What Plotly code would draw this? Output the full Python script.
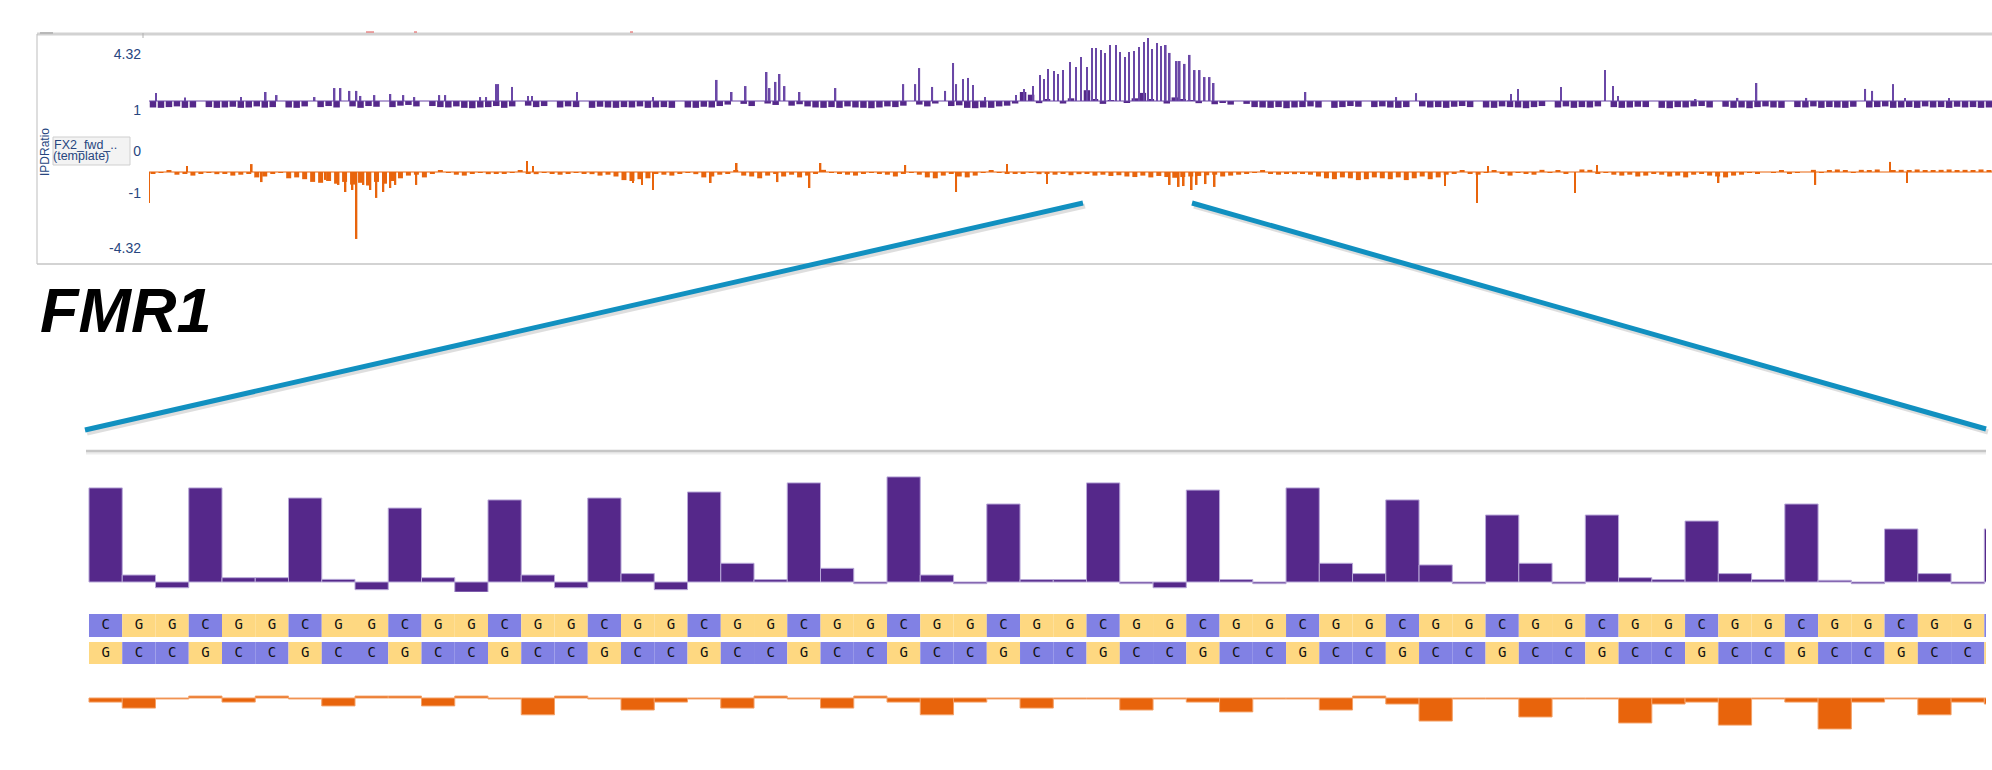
import plotly.graph_objects as go


W = 1992
H = 770


# ---------- overview track: FX2_fwd template, IPD ratio ----------
# background bins of 8 template positions, ratio per bin
PURPLE_BG = [
    0.64, 0.62, 0.66, 0.70, 0.62, 0.64, 1.00, 0.66, 0.62, 0.64, 0.68, 0.62, 0.64, 0.70, 0.63, 0.66, 1.00, 0.64, 0.62,
    0.70, 1.00, 0.66, 0.72, 0.64, 1.00, 0.70, 0.62, 0.72, 0.68, 1.00, 0.66, 0.74,
    0.78, 0.70, 1.00, 0.72, 0.66, 0.64, 0.70, 0.62, 0.60, 0.64, 0.66, 0.72,
    0.62, 0.70, 1.00, 0.74, 0.66, 0.72, 1.00, 0.64, 0.70, 0.66, 1.00, 0.62, 0.68,
    0.64, 0.62, 0.66, 0.64, 0.70, 0.62, 0.64, 0.66, 0.62, 1.00, 0.64, 0.62, 0.68, 0.64, 0.72,
    0.80, 1.00, 0.84, 0.72, 1.00, 0.86, 0.78, 1.00, 0.74, 0.82,
    0.70, 0.64, 0.62, 0.66, 0.62, 0.70, 0.64, 0.62, 0.60, 0.64, 0.70, 0.66,
    0.74, 1.00, 0.80, 0.70, 0.86, 1.00, 0.72, 0.76, 0.62, 0.60, 0.64, 0.62, 0.70,
    0.74, 0.86,
    1.50, 1.35, 0.88, 1.10, 1.00, 0.86, 1.15, 1.00, 1.60, 1.10, 0.84, 1.05, 1.00, 0.90, 1.15, 1.45, 1.10, 1.00, 0.86,
    1.20, 1.10, 1.05, 0.88, 1.00, 0.82,
    0.90, 0.80, 1.00, 0.84, 0.66, 0.64, 0.62, 0.66, 0.60, 0.64,
    0.66, 0.70, 0.64, 1.00, 0.62, 0.66, 0.72, 0.68, 1.00, 0.66, 0.70, 0.64, 0.62, 0.66, 1.00, 0.70, 0.64, 0.66, 0.62, 0.68,
    0.72, 0.66, 1.00, 0.64, 0.62, 0.70, 0.66, 0.64, 0.60, 0.66, 0.72, 1.00, 0.64, 0.70, 0.62, 0.66, 0.64, 0.70, 1.00, 0.66,
    0.62, 0.64, 0.68, 0.66, 1.00, 0.62, 0.60, 0.66, 0.64, 0.70, 0.72, 0.64, 1.00, 0.68, 0.62, 0.64, 0.60, 0.66, 0.70, 0.64,
    0.62, 1.00, 0.66, 0.64, 0.70, 0.62, 0.66, 0.64, 0.62, 0.68, 1.00, 0.64, 0.66, 0.70, 0.62, 0.64, 0.66, 0.62, 0.70, 0.64,
    0.66, 0.62, 0.68, 0.64, 0.66, 0.62, 0.64,
]

ORANGE_BG = [
    1.10, 1.05, 0.92, 1.15, 1.08, 1.20, 1.10, 1.05, 1.12, 1.08, 1.20, 1.15, 1.10, 1.30, 1.25, 1.10, 1.05, 1.35, 1.30,
    1.40, 1.55, 1.60, 1.50, 1.65, 1.55, 1.70, 1.60, 1.75, 1.55, 1.65, 1.50, 1.35,
    1.20, 1.15, 1.30, 1.10, 0.92, 1.05, 1.15, 1.20, 1.10, 1.05, 1.12, 1.08,
    1.10, 1.05, 0.90, 1.08, 1.12, 1.05, 1.10, 1.15, 1.08, 1.05, 1.10, 1.12, 1.20,
    1.15, 1.25, 1.45, 1.50, 1.40, 1.35, 1.10, 1.15, 1.20, 1.10, 1.05, 1.12, 1.30, 1.25, 1.15,
    1.10, 0.90, 1.20, 1.25, 1.35, 1.20, 1.10, 1.25, 1.15, 1.30,
    1.20, 1.10, 0.88, 1.05, 1.10, 1.15, 1.20, 1.10, 1.05, 1.08, 1.15, 1.25,
    1.10, 1.05, 1.15, 1.30, 1.35, 1.20, 1.10, 1.25, 1.30, 1.20, 1.05, 0.92, 1.05,
    1.10, 1.08,
    1.10, 1.05, 1.12, 1.08, 1.15, 1.10, 1.18, 1.12, 1.10, 1.20, 1.15, 1.22, 1.18, 1.25, 1.28, 1.20, 1.30, 1.22, 1.28,
    1.32, 1.28, 1.25, 1.22, 1.18, 1.15,
    1.25, 1.20, 1.15, 1.10, 1.05, 0.92, 1.10, 1.15, 1.08, 1.12,
    1.10, 1.15, 1.25, 1.35, 1.40, 1.30, 1.35, 1.45, 1.40, 1.30, 1.35, 1.40, 1.30, 1.45, 1.35, 1.25, 1.40, 1.30, 1.15, 1.10,
    0.92, 1.10, 1.15, 1.05, 0.90, 1.10, 1.20, 1.05, 1.10, 1.15, 0.88, 1.05, 0.90, 1.10, 1.00, 0.86, 0.88, 1.10, 1.05, 1.15,
    1.20, 1.15, 1.25, 1.20, 1.10, 1.15, 1.25, 1.20, 1.30, 1.15, 1.10, 1.20, 1.25, 1.30, 1.20, 1.15, 1.05, 1.10, 1.00, 1.05,
    0.92, 1.10, 1.05, 1.00, 0.88, 1.05, 0.92, 0.86, 0.90, 1.05, 0.88, 0.92, 0.86, 1.00, 0.90, 0.88, 0.92, 0.86, 0.90, 0.92,
    0.88, 0.86, 0.92, 0.88, 0.90, 0.86, 0.92,
]

# single positions that stand out (template position, ratio)
PURPLE_SPIKE_POS = [
    7, 36, 92, 117, 128, 166, 186, 192, 201, 208, 212, 226, 242, 255, 266, 291, 297, 332, 338, 348,
    350, 364, 380, 384, 429, 505, 569, 584, 598, 619, 622, 628, 632, 637, 652, 688, 756, 768, 772, 785,
    798, 806, 809, 816, 821, 826, 838,
    869, 877, 886, 893, 897, 901, 907, 911, 916, 923, 929, 934, 940, 945, 949, 954, 958, 963, 969, 973,
    978, 982, 987, 992, 997, 1001, 1005, 1010, 1014, 1019, 1023, 1030, 1033, 1038, 1043, 1048, 1053,
    1058, 1063, 1067,
    1159, 1250, 1270, 1365, 1372, 1415, 1459, 1467, 1472, 1550, 1592, 1611, 1661, 1720, 1727, 1748,
    1760, 1804,
]
PURPLE_SPIKE_VAL = [
    1.44, 1.20, 1.22, 1.50, 1.33, 1.22, 1.72, 1.72, 1.56, 1.56, 1.28, 1.33, 1.39, 1.33, 1.22, 1.33, 1.33, 1.22, 1.22, 1.94,
    1.94, 1.78, 1.28, 1.28, 1.50, 1.22, 2.17, 1.50, 1.83, 2.61, 1.72, 2.06, 2.50, 1.83, 1.50, 1.72, 1.94, 1.94, 2.83, 1.78,
    1.56, 3.11, 1.94, 2.22, 2.28, 1.89, 1.22,
    1.33, 1.67, 1.83, 2.44, 2.22, 2.78, 2.67, 2.50, 2.72, 3.17, 2.89, 3.44, 2.89, 3.94, 3.94, 3.83, 3.67, 4.11, 4.11, 3.72,
    3.44, 3.72, 3.78, 4.00, 4.28, 4.50, 3.89, 4.22, 4.06, 4.11, 3.67, 3.22, 3.22, 3.06, 3.56, 2.72, 2.72,
    2.33, 2.33, 2.00,
    1.50, 1.22, 1.44, 1.39, 1.67, 1.78, 2.72, 1.83, 1.28, 1.11, 1.17, 2.00, 1.17, 1.67, 1.56, 1.94,
    1.17, 1.17,
]

ORANGE_SPIKE_POS = [
    0, 38, 103, 113, 177, 190, 197, 204, 208, 215, 222, 228, 235, 242, 247, 268, 379, 385, 485, 494,
    505, 563, 589, 630, 662, 673, 758, 809, 860, 900, 1023, 1032, 1037, 1045, 1050, 1059, 1068, 1299,
    1331, 1342, 1429, 1451, 1573, 1670, 1745, 1762,
]
ORANGE_SPIKE_VAL = [
    2.72, 0.67, 0.56, 1.56, 1.44, 1.72, 2.11, 2.00, 4.72, 1.72, 2.00, 2.44, 2.11, 1.89, 1.72, 1.72, 0.39, 0.67, 1.61, 1.72,
    2.00, 1.61, 0.50, 1.56, 1.89, 0.50, 0.61, 2.11, 0.56, 1.67, 1.72, 1.83, 1.78, 2.00, 1.72, 1.67, 1.83, 1.78,
    2.72, 0.67, 2.17, 0.61, 1.61, 1.72, 0.44, 1.61,
]

TOP_TICK_TEXT = ["4.32", "1", "0", "-1", "-4.32"]


# ---------- zoom on the CGG repeat ----------
SEQ_TOP = "CGGCGGCGGCGGCGGCGGCGGCGGCGGCGGCGGCGGCGGCGGCGGCGGCGGCGGCGGC"

ZOOM_PURPLE = [
    3.92, 0.29, -0.24, 3.92, 0.18, 0.18, 3.50, 0.11, -0.32, 3.08,
    0.18, -0.42, 3.42, 0.29, -0.24, 3.50, 0.35, -0.32, 3.75, 0.78,
    0.10, 4.13, 0.57, -0.07, 4.38, 0.29, -0.07, 3.25, 0.10, 0.10,
    4.13, -0.07, -0.24, 3.83, 0.10, -0.07, 3.92, 0.78, 0.35, 3.42,
    0.71, -0.07, 2.79, 0.78, -0.07, 2.79, 0.18, 0.10, 2.54, 0.35,
    0.10, 3.25, 0.07, -0.07, 2.21, 0.35, -0.07, 2.21,
]

ZOOM_ORANGE = [
    -0.17, -0.42, -0.04, 0.08, -0.17, 0.08, -0.04, -0.33, 0.08, 0.08,
    -0.33, 0.08, -0.04, -0.70, 0.08, -0.04, -0.50, -0.17, -0.04, -0.42,
    0.08, -0.04, -0.42, 0.08, -0.17, -0.70, -0.17, -0.04, -0.42, -0.04,
    -0.04, -0.50, -0.04, -0.17, -0.58, -0.04, -0.04, -0.50, 0.08, -0.25,
    -0.96, -0.04, -0.04, -0.79, -0.04, -0.04, -1.04, -0.25, -0.17, -1.13,
    -0.04, -0.17, -1.29, -0.17, -0.04, -0.70, -0.17, -0.25,
]


PURPLE = "#55288a"
PURPLE_THIN = "#6a47a6"
ORANGE = "#e8640c"
BASE_C = "#8181e4"
BASE_G = "#fed881"
NAVY = "#27467f"
BLUE = "#1190c0"


def fx(p):
    return p / W


def fy(p):
    return 1 - p / H


# overview geometry (pixels)
TOP_Y0, TOP_Y1 = 35, 264
PURPLE_BASE_PIX, ORANGE_BASE_PIX, PX_PER_UNIT = 101, 172, 18.0
TOP_TICK_PIX = [54, 110, 151, 193, 248]
BIN = 8

# zoom geometry: visible cell range
ZOOM_RANGE = [-0.59, 56.55]


def purple_val(p):
    return 1 + (PURPLE_BASE_PIX - p) / PX_PER_UNIT


def orange_val(p):
    return -1 + (ORANGE_BASE_PIX - p) / PX_PER_UNIT


def build_figure():

    fig = go.Figure()

    n_pos = BIN * len(PURPLE_BG)
    bin_x = [BIN * i + BIN / 2 for i in range(len(PURPLE_BG))]


    # overview: forward strand (purple, up from ratio 1)
    fig.add_trace(
        go.Bar(
            x=bin_x,
            y=[v - 1 for v in PURPLE_BG],
            base=1,
            width=6.5,
            marker=dict(color=PURPLE, line=dict(width=0)),
            xaxis="x",
            yaxis="y"
        )
    )
    fig.add_trace(
        go.Bar(
            x=PURPLE_SPIKE_POS,
            y=[v - 1 for v in PURPLE_SPIKE_VAL],
            base=1,
            width=1.6,
            marker=dict(color=PURPLE_THIN, line=dict(width=0)),
            xaxis="x",
            yaxis="y"
        )
    )
    fig.add_trace(
        go.Scatter(
            x=[0, n_pos],
            y=[1, 1],
            mode="lines",
            line=dict(color=PURPLE_THIN, width=1),
            xaxis="x",
            yaxis="y"
        )
    )


    # overview: reverse strand (orange, drawn downward from -1)
    fig.add_trace(
        go.Bar(
            x=bin_x,
            y=[1 - v for v in ORANGE_BG],
            base=-1,
            width=5,
            marker=dict(color=ORANGE, line=dict(width=0)),
            xaxis="x",
            yaxis="y2"
        )
    )
    fig.add_trace(
        go.Bar(
            x=ORANGE_SPIKE_POS,
            y=[1 - v for v in ORANGE_SPIKE_VAL],
            base=-1,
            width=1.6,
            marker=dict(color=ORANGE, line=dict(width=0)),
            xaxis="x",
            yaxis="y2"
        )
    )
    fig.add_trace(
        go.Scatter(
            x=[0, n_pos],
            y=[-1, -1],
            mode="lines",
            line=dict(color=ORANGE, width=1),
            xaxis="x",
            yaxis="y2"
        )
    )


    # zoom: per-base bars and the two strands
    cells = list(range(len(SEQ_TOP)))
    comp = {"C": "G", "G": "C"}
    seq_bottom = [comp[b] for b in SEQ_TOP]
    colour = {"C": BASE_C, "G": BASE_G}

    fig.add_trace(
        go.Bar(
            x=cells,
            y=ZOOM_PURPLE,
            base=0,
            width=1,
            marker=dict(color=PURPLE, line=dict(color="#b8a8d8", width=1)),
            xaxis="x2",
            yaxis="y3"
        )
    )

    top_base = 27 / 22
    fig.add_trace(
        go.Bar(
            x=cells,
            y=[23 / 22] * len(cells),
            base=top_base,
            width=1,
            marker=dict(color=[colour[b] for b in SEQ_TOP], line=dict(width=0)),
            xaxis="x2",
            yaxis="y4"
        )
    )
    fig.add_trace(
        go.Bar(
            x=cells,
            y=[1.0] * len(cells),
            base=0,
            width=1,
            marker=dict(color=[colour[b] for b in seq_bottom], line=dict(width=0)),
            xaxis="x2",
            yaxis="y4"
        )
    )

    # letters only for cells that are fully in view
    shown = [i for i in cells if i + 0.5 <= ZOOM_RANGE[1]]
    fig.add_trace(
        go.Scatter(
            x=shown + shown,
            y=[top_base + 23 / 44] * len(shown) + [0.5] * len(shown),
            mode="text",
            text=[SEQ_TOP[i] for i in shown] + [seq_bottom[i] for i in shown],
            textfont=dict(family="DejaVu Sans Mono", size=14, color="#111111"),
            xaxis="x2",
            yaxis="y4"
        )
    )

    fig.add_trace(
        go.Bar(
            x=cells,
            y=ZOOM_ORANGE,
            base=0,
            width=1,
            marker=dict(color=ORANGE, line=dict(color="#f3a168", width=1)),
            xaxis="x2",
            yaxis="y5"
        )
    )


    hidden = dict(visible=False, showgrid=False, zeroline=False, fixedrange=True)

    fig.update_layout(
        width=W,
        height=H,
        margin=dict(l=0, r=0, t=0, b=0),
        paper_bgcolor="white",
        plot_bgcolor="white",
        showlegend=False,
        barmode="overlay",
        font=dict(family="Liberation Sans, Arial, sans-serif"),
        xaxis=dict(
            domain=[fx(149), 1],
            range=[0, n_pos - 1],
            anchor="y",
            **hidden
        ),
        yaxis=dict(
            domain=[fy(TOP_Y1), fy(TOP_Y0)],
            range=[purple_val(TOP_Y1), purple_val(TOP_Y0)],
            anchor="x",
            tickmode="array",
            tickvals=[purple_val(p) for p in TOP_TICK_PIX],
            ticktext=TOP_TICK_TEXT,
            ticks="",
            ticklabelstandoff=7,
            tickfont=dict(size=14, color=NAVY),
            showgrid=False,
            zeroline=False,
            showline=False,
            fixedrange=True
        ),
        yaxis2=dict(
            overlaying="y",
            range=[orange_val(TOP_Y1), orange_val(TOP_Y0)],
            anchor="x",
            **hidden
        ),
        xaxis2=dict(
            domain=[fx(86), fx(1986)],
            range=ZOOM_RANGE,
            anchor="y3",
            **hidden
        ),
        yaxis3=dict(
            domain=[fy(592), fy(470)],
            range=[-10 / 24, 112 / 24],
            anchor="x2",
            **hidden
        ),
        yaxis4=dict(
            domain=[fy(664), fy(614)],
            range=[0, 50 / 22],
            anchor="x2",
            **hidden
        ),
        yaxis5=dict(
            domain=[fy(735), fy(688)],
            range=[-37 / 24, 10 / 24],
            anchor="x2",
            **hidden
        )
    )


    # frame of the overview panel
    def line(x0, y0, x1, y1, color, width):
        fig.add_shape(
            type="line", xref="paper", yref="paper",
            x0=fx(x0), y0=fy(y0), x1=fx(x1), y1=fy(y1),
            line=dict(color=color, width=width)
        )

    line(37, 34, W, 34, "#d2d2d2", 3)
    line(40, 33, 53, 33, "#b8b8b8", 2)
    line(37, 34, 37, 264, "#bdbdbd", 1)
    line(37, 264, W, 264, "#c4c4c4", 1.5)
    line(143, 33, 143, 38, "#b0b0b0", 1)
    line(366, 32, 374, 32, "#e05050", 1)
    line(414, 32, 417, 32, "#e05050", 1)
    line(630, 32, 633, 32, "#e05050", 1)

    fig.add_shape(
        type="rect", xref="paper", yref="paper",
        x0=fx(53), y0=fy(165), x1=fx(130), y1=fy(137),
        fillcolor="#f3f3f3",
        line=dict(color="#cfcfcf", width=1),
        layer="below"
    )


    # connector lines with a soft shadow
    line(1085, 206, 87, 433, "rgba(0,0,0,0.13)", 5)
    line(1194, 206, 1988, 432, "rgba(0,0,0,0.13)", 5)
    line(1083, 203, 85, 430, BLUE, 5)
    line(1192, 203, 1986, 429, BLUE, 5)

    line(86, 453, 1986, 453, "rgba(0,0,0,0.07)", 3)
    line(86, 451, 1986, 451, "#c6c6c6", 2.5)


    # texts
    fig.add_annotation(
        x=fx(45), y=fy(152), xref="paper", yref="paper",
        xanchor="center", yanchor="middle",
        text="IPDRatio", textangle=-90, showarrow=False,
        font=dict(size=12, color=NAVY)
    )
    fig.add_annotation(
        x=fx(52), y=fy(145), xref="paper", yref="paper",
        xanchor="left", yanchor="middle",
        text="FX2_fwd_..", showarrow=False,
        font=dict(size=12.5, color=NAVY)
    )
    fig.add_annotation(
        x=fx(51), y=fy(156), xref="paper", yref="paper",
        xanchor="left", yanchor="middle",
        text="(template)", showarrow=False,
        font=dict(size=12.5, color=NAVY)
    )
    fig.add_annotation(
        x=fx(38), y=fy(310), xref="paper", yref="paper",
        xanchor="left", yanchor="middle",
        text="<b><i>FMR1</i></b>", showarrow=False,
        font=dict(size=63, color="black")
    )

    return fig


fig = build_figure()

fig.write_html(
    "out.html",
    config={"displayModeBar": False},
    post_script="document.body.style.margin='0';document.body.style.overflow='hidden';"
)
